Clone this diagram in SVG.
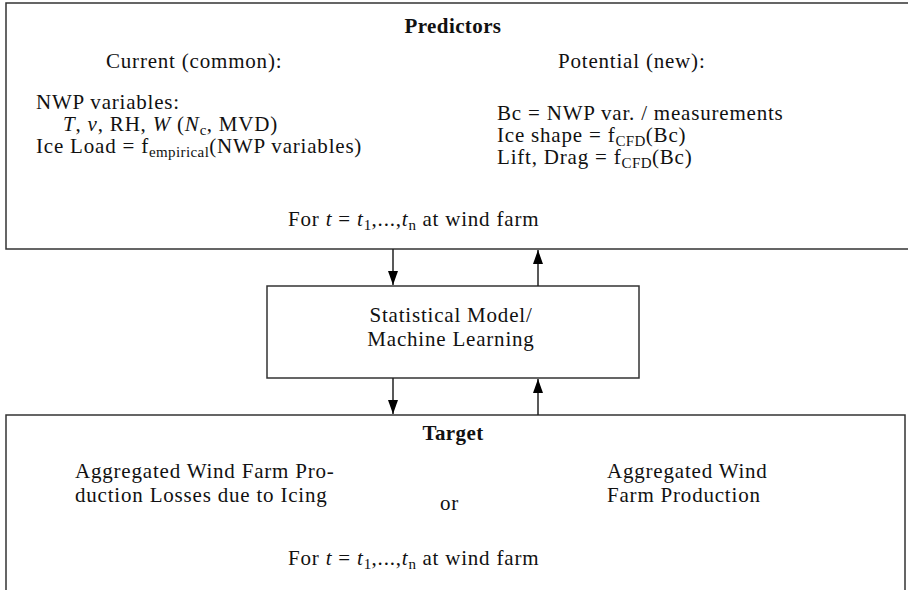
<svg xmlns="http://www.w3.org/2000/svg" width="908" height="590" viewBox="0 0 908 590">
<style>
text{font-family:"Liberation Serif","DejaVu Serif",serif;font-size:21px;letter-spacing:0.8px;fill:#111}
.b{font-weight:bold;letter-spacing:0.4px}
.box{fill:#fff;stroke:#333;stroke-width:1.5}
.c{stroke:#222;stroke-width:1.5;fill:none}
.sub{font-size:15px;letter-spacing:0.4px}
</style>
<defs>
<marker id="ah" markerWidth="14" markerHeight="10" refX="14" refY="5" orient="auto" markerUnits="userSpaceOnUse" viewBox="0 0 14 10">
<path d="M0,0 L14,5 L0,10 z" fill="#000"/>
</marker>
</defs>
<rect width="908" height="590" fill="#fff"/>
<g id="predictors">
<rect class="box" x="6" y="3" width="910" height="246"/>
<text class="b" x="453" y="33" text-anchor="middle">Predictors</text>
<text x="106" y="68">Current (common):</text>
<text x="558" y="68">Potential (new):</text>
<text x="36" y="109">NWP variables:</text>
<text x="63" y="131"><tspan font-style="italic">T</tspan>, <tspan font-style="italic">v</tspan>, RH, <tspan font-style="italic">W</tspan> (<tspan font-style="italic">N</tspan><tspan class="sub" dy="4">c</tspan><tspan dy="-4">, MVD)</tspan></text>
<text x="36" y="153">Ice Load = f<tspan class="sub" dy="4">empirical</tspan><tspan dy="-4">(NWP variables)</tspan></text>
<text x="497" y="120">Bc = NWP var. / measurements</text>
<text x="497" y="142">Ice shape = f<tspan class="sub" dy="4">CFD</tspan><tspan dy="-4">(Bc)</tspan></text>
<text x="497" y="164">Lift, Drag = f<tspan class="sub" dy="4">CFD</tspan><tspan dy="-4">(Bc)</tspan></text>
<text x="288" y="226">For <tspan font-style="italic">t</tspan> = <tspan font-style="italic">t</tspan><tspan class="sub" dy="4">1</tspan><tspan dy="-4">,...,</tspan><tspan font-style="italic">t</tspan><tspan class="sub" dy="4">n</tspan><tspan dy="-4"> at wind farm</tspan></text>
</g>
<g id="model">
<rect class="box" x="267" y="286" width="372" height="92"/>
<text x="451" y="322" text-anchor="middle">Statistical Model/</text>
<text x="451" y="346" text-anchor="middle">Machine Learning</text>
</g>
<g id="target">
<rect class="box" x="6" y="415" width="899" height="200"/>
<text class="b" x="453" y="440" text-anchor="middle">Target</text>
<text x="75" y="478">Aggregated Wind Farm Pro-</text>
<text x="75" y="502">duction Losses due to Icing</text>
<text x="440" y="510">or</text>
<text x="607" y="478">Aggregated Wind</text>
<text x="607" y="502">Farm Production</text>
<text x="288" y="565">For <tspan font-style="italic">t</tspan> = <tspan font-style="italic">t</tspan><tspan class="sub" dy="4">1</tspan><tspan dy="-4">,...,</tspan><tspan font-style="italic">t</tspan><tspan class="sub" dy="4">n</tspan><tspan dy="-4"> at wind farm</tspan></text>
</g>
<g id="connectors">
<line class="c" x1="393" y1="249" x2="393" y2="285" marker-end="url(#ah)"/>
<line class="c" x1="538" y1="286" x2="538" y2="250" marker-end="url(#ah)"/>
<line class="c" x1="393" y1="378" x2="393" y2="414" marker-end="url(#ah)"/>
<line class="c" x1="538" y1="415" x2="538" y2="379" marker-end="url(#ah)"/>
</g>
</svg>
